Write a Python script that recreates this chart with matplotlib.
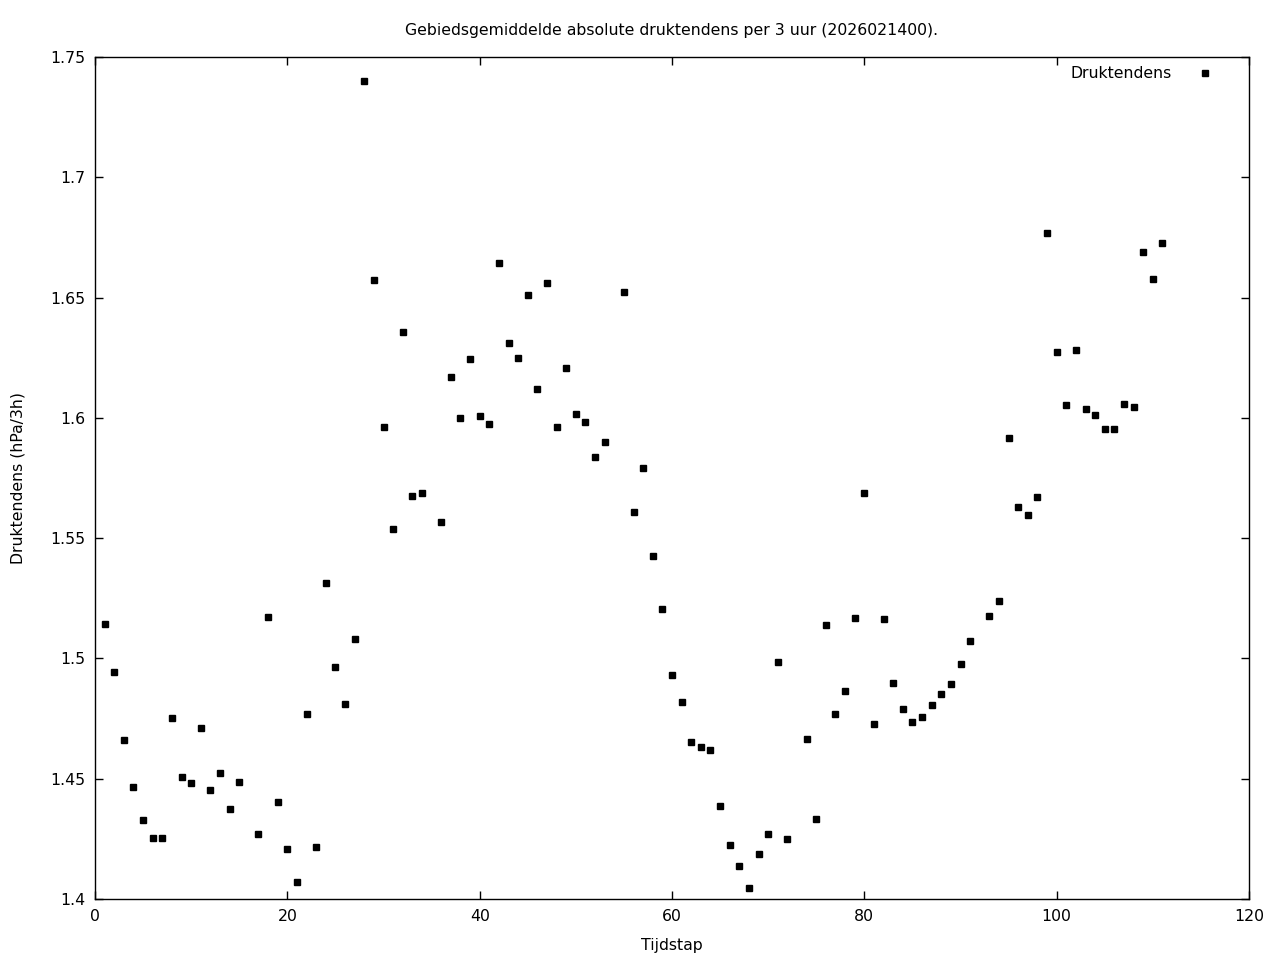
import matplotlib
matplotlib.use("Agg")
import matplotlib.pyplot as plt
from matplotlib.ticker import FuncFormatter
import numpy as np

tijdstap = [1, 2, 3, 4, 5, 6, 7, 8, 9, 10, 11, 12, 13, 14, 15, 17, 18, 19, 20,
            21, 22, 23, 24, 25, 26, 27, 28, 29, 30, 31, 32, 33, 34, 36, 37, 38, 39, 40,
            41, 42, 43, 44, 45, 46, 47, 48, 49, 50, 51, 52, 53, 55, 56, 57, 58, 59, 60,
            61, 62, 63, 64, 65, 66, 67, 68, 69, 70, 71, 72, 74, 75, 76, 77, 78, 79, 80,
            81, 82, 83, 84, 85, 86, 87, 88, 89, 90, 91, 93, 94, 95, 96, 97, 98, 99, 100,
            101, 102, 103, 104, 105, 106, 107, 108, 109, 110, 111]
druktendens = [1.5143, 1.4944, 1.4661, 1.4466, 1.4328, 1.4254, 1.4254, 1.4752, 1.4507, 1.4482,
               1.4711, 1.4453, 1.4524, 1.4374, 1.4486, 1.4270, 1.5172, 1.4403, 1.4208,
               1.4071, 1.4769, 1.4216, 1.5314, 1.4964, 1.4811, 1.5081, 1.7400, 1.6573, 1.5962,
               1.5538, 1.6357, 1.5675, 1.5688, 1.5567, 1.6170, 1.6000, 1.6245, 1.6008,
               1.5975, 1.6644, 1.6311, 1.6249, 1.6511, 1.6120, 1.6561, 1.5962, 1.6207, 1.6016,
               1.5983, 1.5837, 1.5900, 1.6523, 1.5609, 1.5792, 1.5426, 1.5206, 1.4931,
               1.4819, 1.4653, 1.4632, 1.4619, 1.4387, 1.4224, 1.4137, 1.4046, 1.4187, 1.4270,
               1.4985, 1.4249, 1.4665, 1.4333, 1.5139, 1.4769, 1.4865, 1.5168, 1.5688,
               1.4727, 1.5164, 1.4898, 1.4790, 1.4736, 1.4757, 1.4806, 1.4852, 1.4894, 1.4977,
               1.5073, 1.5176, 1.5239, 1.5916, 1.5630, 1.5596, 1.5671, 1.6769, 1.6274,
               1.6054, 1.6282, 1.6037, 1.6012, 1.5954, 1.5954, 1.6058, 1.6045, 1.6690, 1.6577,
               1.6727]

xticks = [0, 20, 40, 60, 80, 100, 120]
yticks = [1.4, 1.45, 1.5, 1.55, 1.6, 1.65, 1.7, 1.75]

FS = 11.3
plt.rcParams['font.family'] = ['DejaVu Sans']
fig = plt.figure(figsize=(12.8, 9.6), dpi=100)
ax = fig.add_axes([95/1280, (960-899)/960, (1249-95)/1280, (899-57)/960])

ax.plot(tijdstap, druktendens, linestyle='none', marker='s', markersize=5.0,
        color='black', label='Druktendens')

ax.set_xlim(0, 120)
ax.set_ylim(1.4, 1.75)
ax.set_xticks(xticks)
ax.set_yticks(yticks)
ax.yaxis.set_major_formatter(FuncFormatter(lambda v, p: '%g' % round(v, 4)))
ax.xaxis.set_major_formatter(FuncFormatter(lambda v, p: '%g' % v))
ax.tick_params(direction='in', length=6, width=1, top=True, right=True,
               labelsize=FS, pad=7)
for s in ax.spines.values():
    s.set_linewidth(1)

ax.set_title('Gebiedsgemiddelde absolute druktendens per 3 uur (2026021400).',
             fontsize=FS, pad=15.5)
ax.set_xlabel('Tijdstap', fontsize=FS, labelpad=10.5)
ax.set_ylabel('Druktendens (hPa/3h)', fontsize=FS, labelpad=18)

leg = ax.legend(loc='upper right', frameon=False, markerfirst=False, fontsize=FS,
                handlelength=2.0, handletextpad=1.1, borderaxespad=0.0,
                bbox_to_anchor=(0.981, 0.9962))

fig.savefig('out.png', dpi=100)
